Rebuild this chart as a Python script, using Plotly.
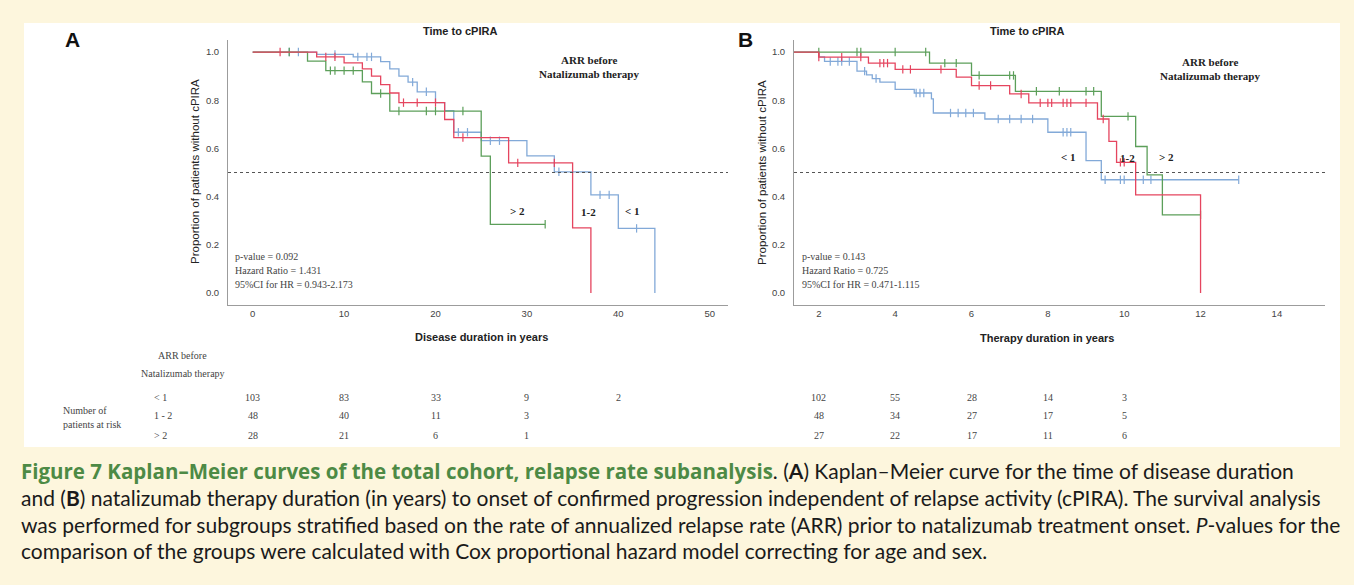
import plotly.graph_objects as go

# ---------------- data ----------------
# Panel A: disease duration (years), survival without cPIRA by ARR group
a_lt1_t = [0, 7, 11, 14, 15, 16, 17, 18, 20, 21, 22, 25, 30, 33, 37, 40, 44]
a_lt1_s = [1.0, 0.99, 0.98, 0.96, 0.93, 0.90, 0.875, 0.835, 0.79, 0.757, 0.667, 0.632, 0.569, 0.503, 0.407, 0.268, 0.0]
a_lt1_cens = [4, 5, 9, 11.5, 12.5, 13, 17.5, 19, 22.5, 23.5, 26, 27, 33.5, 38, 39, 42]

a_12_t = [0, 7, 10, 12, 13, 14, 15, 16, 21, 22, 28, 35, 37]
a_12_s = [1.0, 0.98, 0.955, 0.93, 0.90, 0.865, 0.83, 0.79, 0.72, 0.645, 0.54, 0.27, 0.0]
a_12_cens = [3, 8, 9, 16.5, 18, 20, 23, 29, 33]

a_gt2_t = [0, 6, 8, 12, 13, 15, 25, 26, 32]
a_gt2_s = [1.0, 0.962, 0.923, 0.876, 0.828, 0.755, 0.568, 0.285, 0.285]
a_gt2_cens = [4, 8.5, 9, 10, 11, 14, 16, 19, 20, 23, 32]

# Panel B: natalizumab therapy duration (years)
b_lt1_t = [0, 2.0, 2.15, 3.0, 3.25, 3.4, 3.6, 4.0, 4.5, 4.95, 5.0, 6.35, 8.0, 9.0, 9.4, 13.0]
b_lt1_s = [1.0, 0.98, 0.961, 0.921, 0.905, 0.89, 0.875, 0.845, 0.83, 0.806, 0.747, 0.722, 0.667, 0.549, 0.47, 0.47]
b_lt1_cens = [2.3, 2.5, 2.6, 2.8, 3.2, 3.5, 4.55, 4.65, 4.75, 5.45, 5.65, 5.85, 6.05, 6.7, 7.0, 7.3, 7.6,
              8.4, 8.5, 8.6, 9.5, 9.9, 10.0, 10.5, 10.7, 13.0]

b_12_t = [0, 2.0, 3.3, 4.0, 5.6, 6.0, 7.0, 7.5, 9.3, 9.6, 9.8, 10.3, 12.0]
b_12_s = [1.0, 0.979, 0.954, 0.928, 0.896, 0.861, 0.826, 0.789, 0.722, 0.629, 0.542, 0.407, 0.0]
b_12_cens = [2.0, 2.6, 3.1, 3.6, 3.7, 3.8, 4.2, 4.4, 5.2, 6.2, 6.5, 7.3, 7.8, 8.0, 8.1, 8.4, 8.5,
             8.6, 9.0, 9.45, 9.9, 10.0]

b_gt2_t = [0, 4.9, 6.0, 7.15, 9.4, 10.3, 10.6, 11.0, 12.0]
b_gt2_s = [1.0, 0.954, 0.903, 0.837, 0.733, 0.608, 0.49, 0.324, 0.324]
b_gt2_cens = [2.0, 3.0, 3.1, 4.0, 4.8, 5.3, 5.6, 6.2, 7.0, 7.1, 7.7, 8.3, 9.0, 9.2, 10.1, 12.0]

# Number at risk
a_risk_times = [0, 10, 20, 30, 40]
a_risk_lt1 = [103, 83, 33, 9, 2]
a_risk_12 = [48, 40, 11, 3, None]
a_risk_gt2 = [28, 21, 6, 1, None]

b_risk_times = [2, 4, 6, 8, 10]
b_risk_lt1 = [102, 55, 28, 14, 3]
b_risk_12 = [48, 34, 27, 17, 5]
b_risk_gt2 = [27, 22, 17, 11, 6]

group_labels = ["< 1", "1 - 2", "> 2"]
a_stats = ["p-value = 0.092", "Hazard Ratio = 1.431", "95%CI for HR = 0.943-2.173"]
b_stats = ["p-value = 0.143", "Hazard Ratio = 0.725", "95%CI for HR = 0.471-1.115"]

# ---------------- styling ----------------
W, H = 1354, 585
CREAM = "#fdf6dd"
BLUE = "#82a9d8"
RED = "#e5455f"
GREEN = "#5c9f5a"
SANS = "Liberation Sans, Arial, sans-serif"
SERIF = "Liberation Serif, Times New Roman, serif"
CAPF = "Lato, Open Sans, sans-serif"


def px(x):
    return x / W


def py(y):
    return 1 - y / H


def step_value(ts, ss, t):
    v = ss[0]
    for ti, si in zip(ts, ss):
        if ti <= t:
            v = si
    return v


fig = go.Figure()

series = [
    ("x", "y", a_lt1_t, a_lt1_s, a_lt1_cens, BLUE),
    ("x", "y", a_gt2_t, a_gt2_s, a_gt2_cens, GREEN),
    ("x", "y", a_12_t, a_12_s, a_12_cens, RED),
    ("x2", "y2", b_lt1_t, b_lt1_s, b_lt1_cens, BLUE),
    ("x2", "y2", b_gt2_t, b_gt2_s, b_gt2_cens, GREEN),
    ("x2", "y2", b_12_t, b_12_s, b_12_cens, RED),
]
for xa, ya, ts, ss, cens, col in series:
    fig.add_trace(go.Scatter(x=ts, y=ss, mode="lines", line=dict(color=col, width=1.3, shape="hv"),
                             xaxis=xa, yaxis=ya, showlegend=False, hoverinfo="skip"))
    fig.add_trace(go.Scatter(x=cens, y=[step_value(ts, ss, c) for c in cens], mode="markers",
                             marker=dict(symbol="line-ns-open", size=6, color=col,
                                         line=dict(color=col, width=1.2)),
                             xaxis=xa, yaxis=ya, showlegend=False, hoverinfo="skip"))

axis_common = dict(showline=True, linecolor="#9c9c9c", linewidth=1, showgrid=False, zeroline=False,
                   ticks="", tickfont=dict(family=SANS, size=9.5, color="#444"))
yaxis_common = dict(axis_common, range=[-0.05, 1.05], tickvals=[0, 0.2, 0.4, 0.6, 0.8, 1.0],
                    ticktext=["0.0", "0.2", "0.4", "0.6", "0.8", "1.0"], ticklabelstandoff=6)
ydom = [py(305), py(40)]

fig.update_layout(
    width=W, height=H, autosize=False,
    margin=dict(l=0, r=0, t=0, b=0),
    paper_bgcolor=CREAM, plot_bgcolor="rgba(0,0,0,0)",
    xaxis=dict(axis_common, domain=[px(228), px(728)], range=[-2.7, 52],
               tickvals=[0, 10, 20, 30, 40, 50], anchor="y"),
    yaxis=dict(yaxis_common, domain=ydom, anchor="x"),
    xaxis2=dict(axis_common, domain=[px(794), px(1325)], range=[1.35, 15.26],
                tickvals=[2, 4, 6, 8, 10, 12, 14], anchor="y2"),
    yaxis2=dict(yaxis_common, domain=ydom, anchor="x2"),
)

# white panel behind the charts
fig.add_shape(type="rect", xref="paper", yref="paper", x0=px(24), x1=px(1340), y0=py(447), y1=py(23),
              fillcolor="white", line=dict(width=0), layer="below")

# median reference lines
for xd, ya in (("x domain", "y"), ("x2 domain", "y2")):
    fig.add_shape(type="line", xref=xd, yref=ya, x0=0, x1=1, y0=0.5, y1=0.5,
                  line=dict(color="#555", width=1, dash="dot"))

ann = []


def text(x, y, s, size, family=SANS, color="#222", xanchor="center", angle=0, xref="paper"):
    ann.append(dict(x=x, y=y, xref=xref, yref="paper", text=s, showarrow=False, xanchor=xanchor,
                    yanchor="middle", textangle=angle, font=dict(family=family, size=size, color=color)))


# panel letters, titles, axis titles
text(px(72), py(40), "<b>A</b>", 21, color="#111")
text(px(745), py(40), "<b>B</b>", 21, color="#111")
text(px(460), py(31), "<b>Time to cPIRA</b>", 11)
text(px(1027), py(31), "<b>Time to cPIRA</b>", 11)
text(px(482), py(337), "<b>Disease duration in years</b>", 11)
text(px(1047), py(338), "<b>Therapy duration in years</b>", 11)
text(px(195), py(172), "Proportion of patients without cPIRA", 11.5, angle=-90)
text(px(762), py(172), "Proportion of patients without cPIRA", 11.5, angle=-90)

# legend-style headers inside the plots
text(px(589), py(60), "<b>ARR before</b>", 11, family=SERIF)
text(px(589), py(74), "<b>Natalizumab therapy</b>", 11, family=SERIF)
text(px(1210), py(62), "<b>ARR before</b>", 11, family=SERIF)
text(px(1210), py(76), "<b>Natalizumab therapy</b>", 11, family=SERIF)

# curve labels
for xr, xs, ys, labs in (
    ("x", [517, 588, 632], [211, 212, 211], ["> 2", "1-2", "< 1"]),
    ("x2", [1068, 1127, 1166], [157, 158, 157], ["< 1", "1-2", "> 2"]),
):
    for xx, yy, lab in zip(xs, ys, labs):
        text(px(xx), py(yy), "<b>%s</b>" % lab, 11, family=SERIF)

# statistics
for x0, stats in ((233, a_stats), (800, b_stats)):
    for i, s in enumerate(stats):
        text(px(x0), py(256 + 14 * i), s, 10, family=SERIF, color="#444", xanchor="left")

# number at risk table
text(px(183), py(355), "ARR before", 10, family=SERIF, color="#444")
text(px(183), py(373), "Natalizumab therapy", 10, family=SERIF, color="#444")
text(px(61), py(410), "Number of", 10, family=SERIF, color="#444", xanchor="left")
text(px(61), py(424), "patients at risk", 10, family=SERIF, color="#444", xanchor="left")
row_y = [397, 415, 435]
for lab, yy in zip(group_labels, row_y):
    text(px(152), py(yy), lab, 10, family=SERIF, color="#444", xanchor="left")
for xr, times, rows in (("x", a_risk_times, [a_risk_lt1, a_risk_12, a_risk_gt2]),
                        ("x2", b_risk_times, [b_risk_lt1, b_risk_12, b_risk_gt2])):
    for vals, yy in zip(rows, row_y):
        for t, v in zip(times, vals):
            if v is not None:
                text(t, py(yy), str(v), 10, family=SERIF, color="#444", xref=xr)

# caption
GREEN_CAP = "#4d8a45"
cap_lines = [
    "<span style='color:%s;font-family:Open Sans;font-size:20.5px'><b>Figure 7 Kaplan–Meier curves of the total "
    "cohort, relapse rate subanalysis</b></span>. "
    "(<b>A</b>) Kaplan–Meier curve for the time of disease duration" % GREEN_CAP,
    "and (<b>B</b>) natalizumab therapy duration (in years) to onset of confirmed progression independent of "
    "relapse activity (cPIRA). The survival analysis",
    "was performed for subgroups stratified based on the rate of annualized relapse rate (ARR) prior to "
    "natalizumab treatment onset. <i>P</i>-values for the",
    "comparison of the groups were calculated with Cox proportional hazard model correcting for age and sex.",
]
for i, line in enumerate(cap_lines):
    text(px(19), py(471 + 26.5 * i), line, 21, family=CAPF, color="#1a1a1a", xanchor="left")

fig.update_layout(annotations=ann)
fig.write_html("out.html")
